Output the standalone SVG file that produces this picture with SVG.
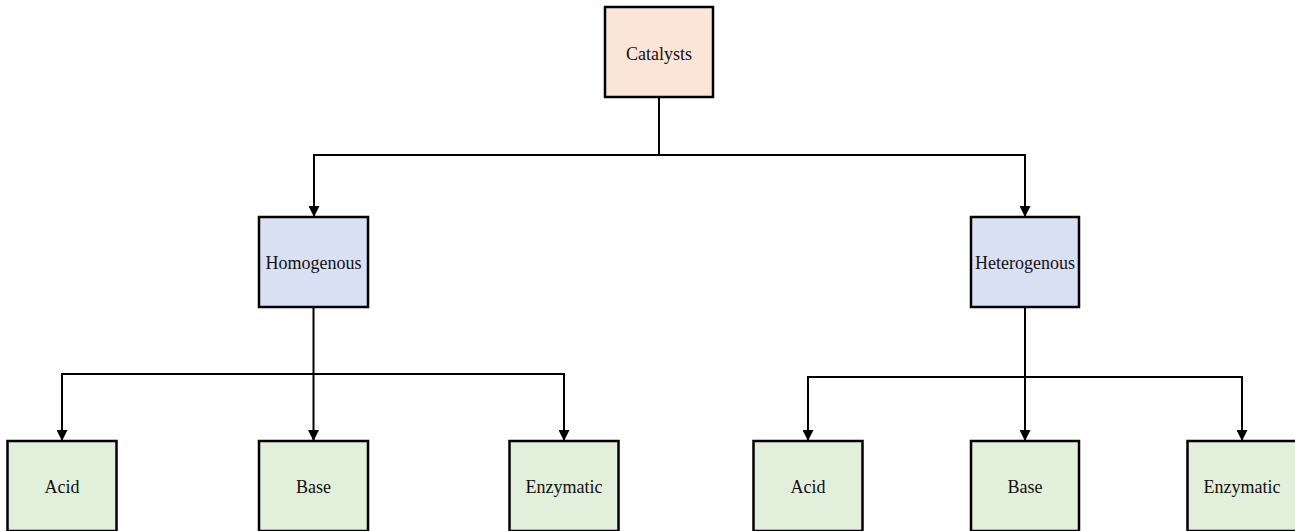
<svg xmlns="http://www.w3.org/2000/svg" width="1295" height="531" viewBox="0 0 1295 531">
<defs>
<marker id="arr" markerUnits="userSpaceOnUse" markerWidth="11" markerHeight="11" viewBox="0 0 11 11" refX="11" refY="5.5" orient="auto">
<path d="M0,0 L11,5.5 L0,11 Z" fill="#000"/>
</marker>
<style>
.box{stroke:#000;stroke-width:2.5}
.top{fill:#fbe5d6}
.mid{fill:#dae0f3}
.leaf{fill:#e2efda}
.lbl{font-family:"Liberation Serif","Times New Roman",serif;font-size:18px;fill:#111;text-anchor:middle}
.con{fill:none;stroke:#000;stroke-width:2;marker-end:url(#arr)}
</style>
</defs>
<rect width="1295" height="531" fill="#fff"/>
<g id="connectors">
<path class="con" d="M659,97 V155 H314 V217"/>
<path class="con" d="M659,155 H1025 V217"/>
<path class="con" d="M313.5,307 V441"/>
<path class="con" d="M313.5,374 H62 V441"/>
<path class="con" d="M313.5,374 H564 V441"/>
<path class="con" d="M1025,307 V441"/>
<path class="con" d="M1025,377 H808 V441"/>
<path class="con" d="M1025,377 H1242 V441"/>
</g>
<g id="catalysts"><rect class="box top" x="605" y="7" width="108" height="90"/><text class="lbl" x="659" y="60">Catalysts</text></g>
<g id="homogenous"><rect class="box mid" x="259" y="217" width="109" height="90"/><text class="lbl" x="313.5" y="269">Homogenous</text></g>
<g id="heterogenous"><rect class="box mid" x="971" y="217" width="108" height="90"/><text class="lbl" x="1025" y="269">Heterogenous</text></g>
<g id="hom-acid"><rect class="box leaf" x="7.5" y="441" width="109" height="90"/><text class="lbl" x="62" y="493">Acid</text></g>
<g id="hom-base"><rect class="box leaf" x="259" y="441" width="109" height="90"/><text class="lbl" x="313.5" y="493">Base</text></g>
<g id="hom-enzymatic"><rect class="box leaf" x="509.5" y="441" width="109" height="90"/><text class="lbl" x="564" y="493">Enzymatic</text></g>
<g id="het-acid"><rect class="box leaf" x="753.5" y="441" width="109" height="90"/><text class="lbl" x="808" y="493">Acid</text></g>
<g id="het-base"><rect class="box leaf" x="971" y="441" width="108" height="90"/><text class="lbl" x="1025" y="493">Base</text></g>
<g id="het-enzymatic"><rect class="box leaf" x="1187.5" y="441" width="109" height="90"/><text class="lbl" x="1242" y="493">Enzymatic</text></g>
</svg>
